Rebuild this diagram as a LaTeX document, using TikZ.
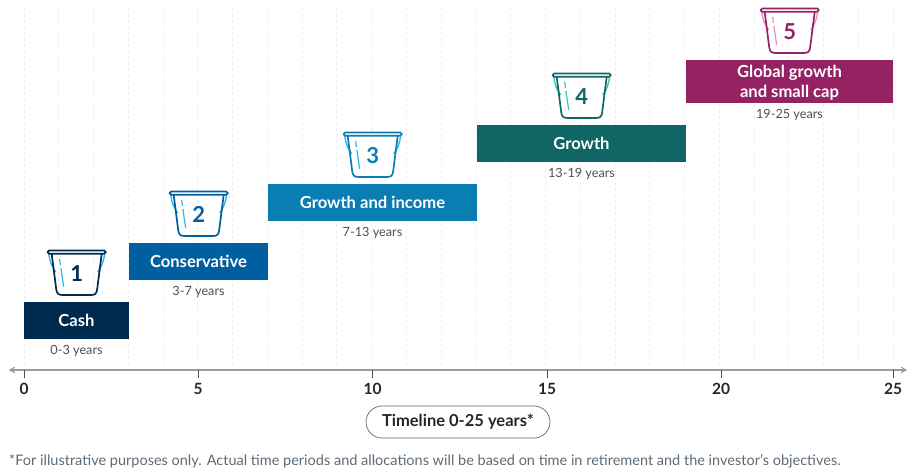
\documentclass[tikz,border=0pt]{standalone}
\usepackage{fontspec}
\setmainfont{Lato}
\usetikzlibrary{arrows}
\usetikzlibrary{positioning}
\definecolor{cashc}{HTML}{002B50}
\definecolor{consc}{HTML}{005F9E}
\definecolor{incomec}{HTML}{0A7DB2}
\definecolor{growthc}{HTML}{0F6664}
\definecolor{globalc}{HTML}{952364}
\definecolor{bluelt}{HTML}{2DB7EA}
\definecolor{teallt}{HTML}{3CC4B6}
\definecolor{pinklt}{HTML}{E88AC8}
\definecolor{textc}{HTML}{4A4F55}
\definecolor{notec}{HTML}{5C6B78}
\definecolor{gridc}{HTML}{EDEDED}
\definecolor{axisc}{HTML}{9A9A9A}
\tikzset{
  bar/.style={rectangle, fill=#1, text=white, font=\bfseries\fontsize{16.6}{20}\selectfont, align=center, inner sep=0pt},
  years/.style={font=\fontsize{12.7}{14}\selectfont, text=textc, inner sep=0pt},
  tick/.style={font=\bfseries\fontsize{15.5}{18}\selectfont, text=black!85, inner sep=0pt},
  pics/bucket/.style n args={3}{code={
    \draw[#2, line width=1.4pt] (-28,3) .. controls (-27,12) and (-25,16) .. (-21,22);
    \draw[#2, line width=1.4pt] (28,3) .. controls (27,12) and (25,16) .. (21,22);
    \draw[#1, line width=1.7pt, line join=round] (-25,4) -- (-20.5,39) .. controls (-20,44) and (-18,45) .. (-14,45) -- (14,45) .. controls (18,45) and (20,44) .. (20.5,39) -- (25,4);
    \draw[#1, line width=1.7pt, rounded corners=1.5pt, fill=white] (-29,0.5) rectangle (29,3.8);
    \draw[#2, line width=1.2pt] (-17,9) -- (-16.3,15) (-15.8,18) -- (-13,37);
    \node[text=#1, inner sep=0pt, font=\fontsize{22}{24}\selectfont\bfseries] (-num) at (0,23.5) {#3};
  }}
}
\begin{document}
\begin{tikzpicture}[x=1pt, y=-1pt]
    \useasboundingbox (0,0) rectangle (916,476);

    % grid
    \foreach \i in {0,...,25}
        \draw[gridc, dashed, line width=0.7pt] ({24+\i*34.76},8) -- ({24+\i*34.76},370);

    % bars
    \node[bar=cashc, minimum width=105pt, minimum height=37pt] (cash) at (76.5,320.5) {Cash};
    \node[bar=consc, minimum width=139pt, minimum height=37pt] (cons) at (198.5,261) {Conservative};
    \node[bar=incomec, minimum width=209pt, minimum height=37pt] (income) at (372.5,202.5) {Growth and income};
    \node[bar=growthc, minimum width=209pt, minimum height=37pt] (growth) at (581.5,143.5) {Growth};
    \node[bar=globalc, minimum width=207pt, minimum height=43pt] (global) at (789.5,81.5) {\rule{0pt}{15pt}Global growth\\and small cap};

    \node[years] (y1) [below=6pt of cash] {0-3 years};
    \node[years] (y2) [below=6pt of cons] {3-7 years};
    \node[years] (y3) [below=6pt of income] {7-13 years};
    \node[years] (y4) [below=6pt of growth] {13-19 years};
    \node[years] (y5) [below=6pt of global] {19-25 years};

    % buckets
    \pic (b1) at (76.7,250) {bucket={cashc}{bluelt}{1}};
    \pic (b2) at (198.7,191) {bucket={consc}{bluelt}{2}};
    \pic (b3) at (372.7,132) {bucket={incomec}{bluelt}{3}};
    \pic (b4) at (581.7,73) {bucket={growthc}{teallt}{4}};
    \pic (b5) at (789.7,8) {bucket={globalc}{pinklt}{5}};

    % axis
    \coordinate (axl) at (9,370);
    \coordinate (axr) at (907,370);
    \draw[<->, >=angle 60, axisc, line width=1.1pt] (axl) -- (axr);

    \node[tick] (t0) at (24,389) {0};
    \node[tick] (t5) at (198,389) {5};
    \node[tick] (t10) at (372.5,389) {10};
    \node[tick] (t15) at (547,389) {15};
    \node[tick] (t20) at (721,389) {20};
    \node[tick] (t25) at (893,389) {25};
    \draw[black!70, line width=0.7pt] (24,370) -- (t0.north |- 0,378);
    \draw[black!70, line width=0.7pt] (198,370) -- (t5.north |- 0,378);
    \draw[black!70, line width=0.7pt] (372.5,370) -- (t10.north |- 0,378);
    \draw[black!70, line width=0.7pt] (547,370) -- (t15.north |- 0,378);
    \draw[black!70, line width=0.7pt] (721,370) -- (t20.north |- 0,378);
    \draw[black!70, line width=0.7pt] (893,370) -- (t25.north |- 0,378);

    % timeline pill and note
    \node[draw=black!60, line width=0.7pt, rounded corners=16pt, minimum width=184pt, minimum height=32pt, inner sep=0pt, font=\bfseries\fontsize{16.5}{18}\selectfont, text=black!85] (pill) at (458,422) {Timeline 0-25 years*};
    \node[anchor=west, inner sep=0pt, text=notec, font=\fontsize{14.5}{16}\selectfont] (note) at (9,461) {*For illustrative purposes only. Actual time periods and allocations will be based on time in retirement and the investor’s objectives.};
\end{tikzpicture}
\end{document}
